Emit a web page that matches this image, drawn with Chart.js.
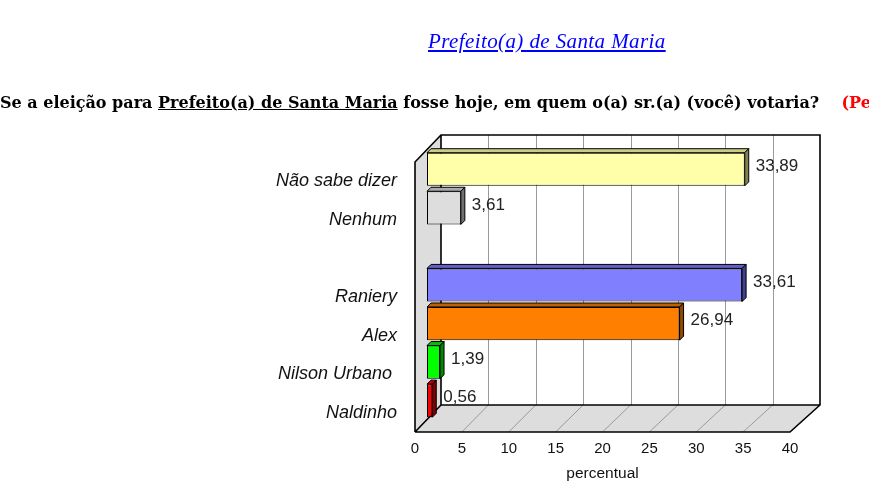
<!DOCTYPE html>
<html><head><meta charset="utf-8">
<script src="https://cdn.jsdelivr.net/npm/chart.js@4"></script>
<style>
html,body{margin:0;padding:0;background:#fff;overflow:hidden;}
#wrap{position:relative;width:869px;height:483px;overflow:hidden;}
canvas{position:absolute;left:0;top:0;}
#title{position:absolute;left:428px;top:29px;font:italic 21px "Liberation Serif";letter-spacing:0.4px;line-height:24px;color:#0000ff;text-decoration:underline;white-space:nowrap;}
#sub{position:absolute;left:0;top:92px;width:869px;overflow:hidden;font:bold 16px "DejaVu Serif";line-height:22px;color:#000;white-space:nowrap;}
#sub .red{color:#ff0000;}
</style></head>
<body><div id="wrap">
<canvas id="c" width="869" height="483"></canvas>
<div id="title">Prefeito(a) de Santa Maria</div>
<div id="sub">Se a eleição para <u>Prefeito(a) de Santa Maria</u> fosse hoje, em quem o(a) sr.(a) (você) votaria?&nbsp;&nbsp;&nbsp;&nbsp;<span class="red">(Pe</span></div>
</div>
<script>
const categories = ['Não sabe dizer', 'Nenhum', '', 'Raniery', 'Alex', 'Nilson Urbano ', 'Naldinho'];
const values = [33.89, 3.61, null, 33.61, 26.94, 1.39, 0.56];
const valueLabels = ['33,89', '3,61', '', '33,61', '26,94', '1,39', '0,56'];
const frontColors = ['#FFFFAA', '#DDDDDD', '#FFFFFF', '#8080FF', '#FF8000', '#00FF00', '#FF0000'];
const topColors = ['#CCCC88', '#AAAAAA', '#FFFFFF', '#6060C0', '#C06000', '#00C000', '#C00000'];
const sideColors = ['#808050', '#707070', '#FFFFFF', '#404090', '#904800', '#008800', '#800000'];
const xMin = 0, xMax = 40, xStep = 5;
const axisTitle = 'percentual';

const DX = 26, DY = -27;   // depth of the 3D box
const BX = 12, BY = -12;   // bar placement inside the depth
const BD = 4;              // bar thickness in depth

const box3d = {
  id: 'box3d',
  beforeDatasetsDraw(chart) {
    const ctx = chart.ctx, xs = chart.scales.x, a = chart.chartArea;
    const L = xs.getPixelForValue(xMin), R = xs.getPixelForValue(xMax);
    const T = a.top, B = a.bottom;
    const k = 4 / (R - L);
    const back = p => p + DX + (p - L) * k;
    ctx.save();
    ctx.fillStyle = '#FFFFFF';
    ctx.fillRect(L + DX, T + DY, back(R) - (L + DX), B - T);
    ctx.fillStyle = '#DDDDDD';
    ctx.beginPath();
    ctx.moveTo(L, T); ctx.lineTo(L + DX, T + DY); ctx.lineTo(L + DX, B + DY); ctx.lineTo(L, B); ctx.closePath();
    ctx.fill();
    ctx.beginPath();
    ctx.moveTo(L, B); ctx.lineTo(L + DX, B + DY); ctx.lineTo(back(R), B + DY); ctx.lineTo(R, B); ctx.closePath();
    ctx.fill();
    ctx.strokeStyle = '#9A9A9A';
    ctx.lineWidth = 1;
    for (let v = xMin + xStep; v < xMax; v += xStep) {
      const p = xs.getPixelForValue(v), bp = back(p);
      ctx.beginPath();
      ctx.moveTo(Math.round(bp) + 0.5, T + DY); ctx.lineTo(Math.round(bp) + 0.5, B + DY);
      ctx.moveTo(p, B); ctx.lineTo(bp, B + DY);
      ctx.stroke();
    }
    ctx.strokeStyle = '#000000';
    ctx.lineWidth = 1.6;
    ctx.beginPath();
    ctx.moveTo(L, B); ctx.lineTo(L, T); ctx.lineTo(L + DX, T + DY); ctx.lineTo(back(R), T + DY);
    ctx.lineTo(back(R), B + DY); ctx.lineTo(R, B); ctx.lineTo(L, B);
    ctx.moveTo(L + DX, T + DY); ctx.lineTo(L + DX, B + DY); ctx.lineTo(back(R), B + DY);
    ctx.moveTo(L + DX, B + DY); ctx.lineTo(L, B);
    ctx.stroke();
    ctx.restore();
    ctx.save();
    ctx.translate(BX, BY);
  },
  afterDatasetsDraw(chart) {
    const ctx = chart.ctx;
    const meta = chart.getDatasetMeta(0);
    meta.data.forEach((bar, i) => {
      if (values[i] === null) return;
      const p = bar.getProps(['x', 'y', 'base', 'height'], true);
      const t = p.y - p.height / 2, b = p.y + p.height / 2;
      ctx.lineWidth = 1;
      ctx.strokeStyle = '#000000';
      ctx.fillStyle = topColors[i];
      ctx.beginPath();
      ctx.moveTo(p.base, t); ctx.lineTo(p.base + BD, t - BD); ctx.lineTo(p.x + BD, t - BD); ctx.lineTo(p.x, t); ctx.closePath();
      ctx.fill(); ctx.stroke();
      ctx.fillStyle = sideColors[i];
      ctx.beginPath();
      ctx.moveTo(p.x, t); ctx.lineTo(p.x + BD, t - BD); ctx.lineTo(p.x + BD, b - BD); ctx.lineTo(p.x, b); ctx.closePath();
      ctx.fill(); ctx.stroke();
      ctx.fillStyle = '#222222';
      ctx.font = '17px "Liberation Sans"';
      ctx.textAlign = 'left';
      ctx.textBaseline = 'middle';
      ctx.fillText(valueLabels[i], p.x + BD + 7, p.y - 3);
    });
    ctx.restore();
  }
};

new Chart(document.getElementById('c'), {
  type: 'bar',
  data: {
    labels: categories,
    datasets: [{
      data: values,
      backgroundColor: frontColors,
      borderColor: '#000000',
      borderWidth: 1,
      borderSkipped: false,
      barPercentage: 0.86,
      categoryPercentage: 1,
      clip: false
    }]
  },
  options: {
    indexAxis: 'y',
    responsive: false,
    animation: false,
    devicePixelRatio: 1,
    layout: { padding: { top: 162, right: 79, bottom: 0, left: 0 } },
    plugins: { legend: { display: false }, tooltip: { enabled: false } },
    scales: {
      y: {
        type: 'category',
        grid: { display: false, drawTicks: false },
        border: { display: false },
        ticks: { font: { family: 'Liberation Sans', size: 18, style: 'italic' }, color: '#111111', padding: 18 },
        afterFit: s => { s.width = 415; }
      },
      x: {
        type: 'linear', min: xMin, max: xMax,
        grid: { display: false, drawTicks: false },
        border: { display: false },
        ticks: { stepSize: xStep, font: { family: 'Liberation Sans', size: 15 }, color: '#111111', padding: 8 },
        title: { display: true, text: axisTitle, font: { family: 'Liberation Sans', size: 15.5 }, color: '#111111', padding: { top: 0, bottom: 0 } },
        afterFit: s => { s.height = 51; }
      }
    }
  },
  plugins: [box3d]
});
</script>
</body></html>
